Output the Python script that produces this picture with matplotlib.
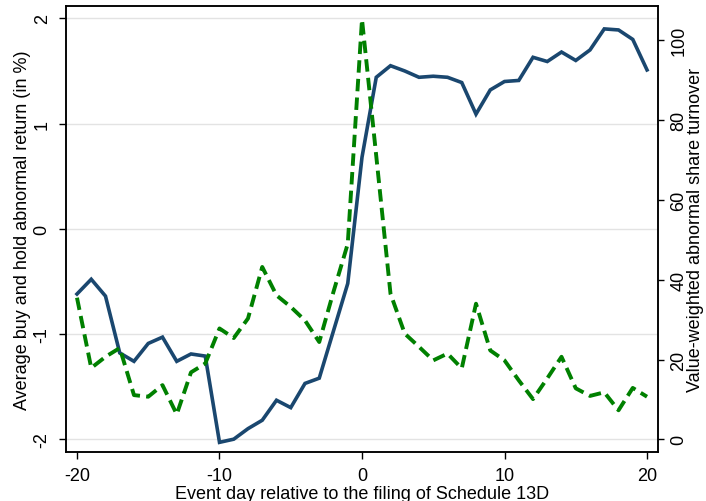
import numpy as np
import matplotlib
matplotlib.use("Agg")
import matplotlib.pyplot as plt

plt.rcParams['font.family'] = ['Liberation Sans', 'DejaVu Sans']
plt.rcParams['axes.unicode_minus'] = False

# event days -20 .. 20
days = list(range(-20, 21))

# average buy and hold abnormal return (in %), left axis
bhar = [-0.62, -0.48, -0.64, -1.18, -1.26, -1.09, -1.03, -1.26, -1.19, -1.21,
        -2.03, -2.00, -1.90, -1.82, -1.63, -1.70, -1.47, -1.42, -0.97, -0.52,
        0.68, 1.44, 1.55, 1.50, 1.44, 1.45, 1.44, 1.39, 1.09, 1.32,
        1.40, 1.41, 1.63, 1.59, 1.68, 1.60, 1.70, 1.90, 1.89, 1.80,
        1.51]

# value-weighted abnormal share turnover, right axis
turnover = [35.5, 17.9, 20.7, 22.9, 11.1, 10.7, 13.6, 6.3, 16.8, 19.0,
            27.8, 25.4, 30.3, 43.2, 36.1, 33.2, 29.8, 24.4, 37.0, 49.0,
            105.2, 71.0, 36.5, 26.5, 23.2, 19.8, 21.5, 17.8, 34.0, 22.3,
            19.8, 14.8, 10.1, 15.3, 20.7, 12.8, 10.9, 11.8, 7.3, 12.9,
            10.7]

left_ticks = [-2, -1, 0, 1, 2]
right_ticks = [0, 20, 40, 60, 80, 100]
x_ticks = [-20, -10, 0, 10, 20]

fig = plt.figure(figsize=(7.06, 5.02), dpi=100)
ax = fig.add_axes([0.0935, 0.0980, 0.8385, 0.8875])
ax2 = ax.twinx()

ax.plot(days, bhar, color='#1a476f', lw=2.6, solid_joinstyle='miter')
ax2.plot(days, turnover, color='#008000', lw=2.8, dashes=(3.2, 1.6))

ax.set_xlim(-20.77, 20.77)
ax.set_ylim(-2.12, 2.115)
ax2.set_ylim(-3.1, 104.9 + 3.6)

ax.set_xticks(x_ticks)
ax.set_yticks(left_ticks)
ax2.set_yticks(right_ticks)
ax.set_yticklabels([str(t) for t in left_ticks], rotation=90, va='center')
ax2.set_yticklabels([str(t) for t in right_ticks], rotation=90, va='center')

ax.grid(axis='y', color='#e3e3e3', lw=1.0)
ax.set_axisbelow(True)

for a in (ax, ax2):
    a.tick_params(direction='out', length=5, width=1, labelsize=13, pad=6)
    for s in a.spines.values():
        s.set_linewidth(1.1)
        s.set_color('black')
# right side a little tighter so the title stays inside the picture
ax2.tick_params(axis='y', length=4, pad=5)

ax.set_xlabel('Event day relative to the filing of Schedule 13D', fontsize=13, labelpad=1)
ax.set_ylabel('Average buy and hold abnormal return (in %)', fontsize=13, labelpad=2)
ax2.set_ylabel('Value-weighted abnormal share turnover', fontsize=13, labelpad=0)

fig.savefig('out.png', dpi=100)
